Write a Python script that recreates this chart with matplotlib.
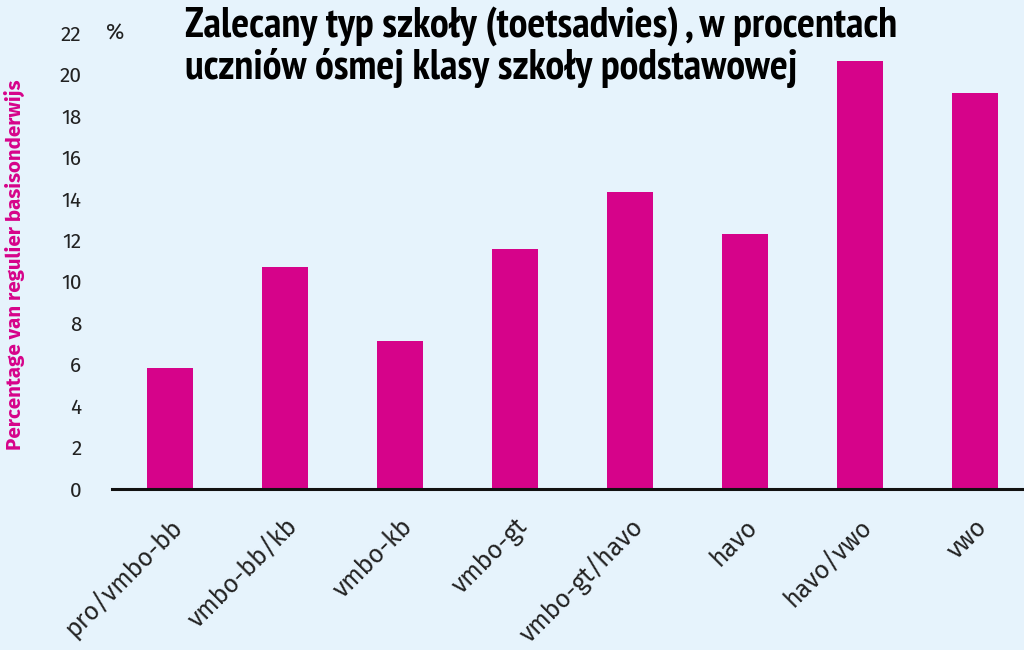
import matplotlib.pyplot as plt
import numpy as np

categories = ["pro/vmbo-bb", "vmbo-bb/kb", "vmbo-kb", "vmbo-gt",
              "vmbo-gt/havo", "havo", "havo/vwo", "vwo"]
values = [5.85, 10.7, 7.15, 11.6, 14.35, 12.3, 20.65, 19.1]
yticks = list(range(0, 23, 2))

title = "Zalecany typ szkoły (toetsadvies) , w procentach\nuczniów ósmej klasy szkoły podstawowej"
ylabel = "Percentage van regulier basisonderwijs"

bg = "#e6f3fc"
magenta = "#d6038a"

title_fonts = ["PT Sans Narrow", "Fira Sans Extra Condensed", "DejaVu Sans"]
text_fonts = ["Fira Sans", "Open Sans", "DejaVu Sans"]

fig = plt.figure(figsize=(10.24, 6.5), dpi=100, facecolor=bg)
ax = fig.add_axes([112 / 1024, 1 - 489 / 650, 1 - 112 / 1024, (489 - 33) / 650])
ax.set_facecolor(bg)

x = np.arange(len(categories))
ax.bar(x, values, width=0.4, color=magenta)

ax.set_xlim(-0.504, 7.43)
ax.set_ylim(0, 22)
ax.set_yticks(yticks)
ax.set_yticklabels([str(t) for t in yticks], fontsize=15, color="#222222",
                   family=text_fonts)
ax.tick_params(axis="y", length=0, pad=22)
ax.set_xticks(x)
ax.set_xticklabels(categories, rotation=45, ha="right", rotation_mode="anchor",
                   fontsize=18, color="#222222", family=text_fonts)
ax.tick_params(axis="x", length=0, pad=18)

for s in ["left", "right", "top"]:
    ax.spines[s].set_visible(False)
ax.spines["bottom"].set_linewidth(2.2)
ax.spines["bottom"].set_color("#111111")

fig.text(106 / 1024, 1 - 33 / 650, "%", fontsize=16, color="#222222",
         family=text_fonts, va="center", ha="left")
ylab = fig.text(14 / 1024, 1 - 265 / 650, ylabel, rotation=90, fontsize=14,
                fontweight="bold", color=magenta, family=text_fonts,
                va="center", ha="center")
ttl = fig.text(185 / 1024, 1 - 6 / 650, title, fontsize=30, fontweight="bold",
               family=title_fonts, color="black", va="top", ha="left",
               linespacing=1.05)

# fit title and y label to the sizes in the reference
r = fig.canvas.get_renderer()
w = ttl.get_window_extent(r).width
ttl.set_fontsize(30 * 712 / w)
h = ylab.get_window_extent(r).height
ylab.set_fontsize(14 * 370 / h)

fig.savefig("out.png", dpi=100, facecolor=bg)
